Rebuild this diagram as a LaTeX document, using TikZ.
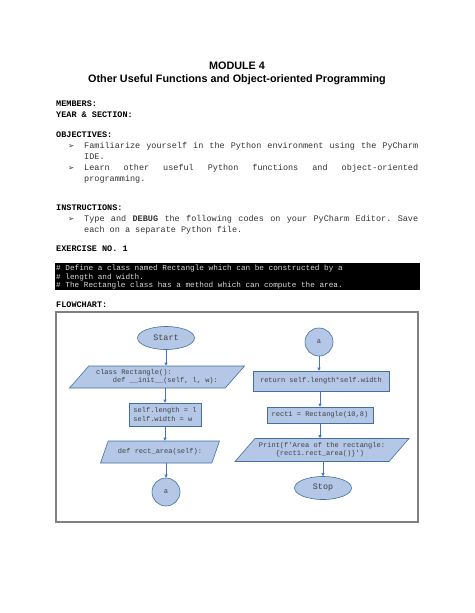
\documentclass[tikz,border=0pt]{standalone}
\usepackage{fontspec}
\setmainfont{Liberation Sans}
\setmonofont{Liberation Mono}
\newfontfamily\symfont{DejaVu Sans}
\usetikzlibrary{arrows.meta,shapes.geometric}
\definecolor{boxfill}{HTML}{B4C7E7}
\definecolor{boxline}{HTML}{41719C}
\definecolor{flowarr}{HTML}{4472C4}
\newcommand{\bodyfont}{\ttfamily\fontsize{8.5}{11}\selectfont}
\newcommand{\fillline}[1]{\hbox to 334pt{\frenchspacing\spaceskip=0.6em plus 1fil\relax #1}}
\newcommand{\ind}{\phantom{xxxx}}
\tikzset{flow/.style={-{Triangle[length=3pt,width=3pt]}, draw=flowarr, line width=0.6pt},
  txt/.style={anchor=base west, inner sep=0pt, font=\bodyfont, text=black!80},
  hd/.style={txt, font=\bodyfont\bfseries, text=black},
  fc/.style={draw=boxline, fill=boxfill, line width=0.6pt, text=black!75, inner sep=1pt,
    font=\ttfamily\fontsize{7}{8.2}\selectfont},
  term/.style={fc, ellipse, minimum width=57pt, minimum height=23pt, font=\ttfamily\fontsize{8.4}{10}\selectfont},
  io/.style={fc, trapezium, trapezium stretches body, align=left, minimum height=22pt},
  proc/.style={fc, rectangle, align=left},
  conn/.style={fc, circle, minimum size=28pt}}

\begin{document}
\begin{tikzpicture}[x=1pt, y=-1pt]
  \useasboundingbox (0,0) rectangle (474,613);
  \fill[white] (0,0) rectangle (474,613);
  % heading
  \node[anchor=base, inner sep=0pt, font=\fontsize{10.8}{13}\selectfont\bfseries] (mod) at (237,69) {MODULE 4};
  \node[anchor=base, inner sep=0pt, font=\fontsize{10.8}{13}\selectfont\bfseries] (sub) at (237,82) {Other Useful Functions and Object-oriented Programming};
  \node[hd] (mem) at (56,106) {MEMBERS:};
  \node[hd] (yr) at (56,117) {YEAR \& SECTION:};
  % objectives
  \node[hd] (obj) at (56,137) {OBJECTIVES:};
  \node[txt, font=\symfont\fontsize{7.5}{9}\selectfont] (b1) at (68,148) {➢};
  \node[txt] (o1) at (84,148) {\fillline{Familiarize yourself in the Python environment using the PyCharm}};
  \node[txt] (o1b) at (84,159) {IDE.};
  \node[txt, font=\symfont\fontsize{7.5}{9}\selectfont] (b2) at (68,170) {➢};
  \node[txt] (o2) at (84,170) {\fillline{Learn other useful Python functions and object-oriented}};
  \node[txt] (o2b) at (84,181) {programming.};
  % instructions
  \node[hd] (ins) at (56,210) {INSTRUCTIONS:};
  \node[txt, font=\symfont\fontsize{7.5}{9}\selectfont] (b3) at (68,221) {➢};
  \node[txt] (i1) at (84,221) {\fillline{Type and \textbf{DEBUG} the following codes on your PyCharm Editor. Save}};
  \node[txt] (i1b) at (84,232) {each on a separate Python file.};
  \node[hd] (ex) at (56,251) {EXERCISE NO. 1};
  % code comment box
  \fill[black] (55,263) rectangle (420,290);
  \foreach \t [count=\k] in {{\# Define a class named Rectangle which can be constructed by a},
      {\# length and width.},{\# The Rectangle class has a method which can compute the area.}}{
    \node[txt, font=\ttfamily\fontsize{7.7}{9}\selectfont, text=black!15] (c\k) at (56,262+8.6*\k) {\t};}
  \node[hd] (fl) at (56,307) {FLOWCHART:};
  \draw[black!50, line width=1.2pt] (56,312) rectangle (418,522);
  % left column
  \node[term] (start) at (166,338) {Start};
  \node[io, trapezium left angle=41, trapezium right angle=139, minimum width=175pt] (cls) at (157,377)
    {class Rectangle():\\\ind def \_\_init\_\_(self, l, w):};
  \node[proc, minimum width=72pt, minimum height=23pt] (init) at (165,414.5) {self.length = l\\self.width = w};
  \node[io, trapezium left angle=48, trapezium right angle=132, minimum width=119pt] (area) at (160,452)
    {def rect\_area(self):};
  \node[conn] (conA) at (166,492) {a};
  % right column
  \node[conn] (conB) at (319,342) {a};
  \node[proc, minimum width=136pt, minimum height=20pt] (ret) at (321,381) {return self.length*self.width};
  \node[proc, minimum width=106pt, minimum height=16pt] (mk) at (320,415) {rect1 = Rectangle(10,8)};
  \node[io, trapezium left angle=40, trapezium right angle=140, minimum width=174pt, minimum height=23pt] (prn) at (322,450)
    {Print(f'Area of the rectangle:\\\ind \{rect1.rect\_area()\}')};
  \node[term] (stop) at (323,488) {Stop};
  % connectors
  \draw[flow] (start) -- (start |- cls.north);
  \draw[flow] (init.north |- cls.south) -- (init);
  \draw[flow] (init) -- (init |- area.north);
  \draw[flow] (conA.north |- area.south) -- (conA);
  \draw[flow] (conB) -- (conB |- ret.north);
  \draw[flow] (mk.north |- ret.south) -- (mk);
  \draw[flow] (mk) -- (mk |- prn.north);
  \draw[flow] (stop.north |- prn.south) -- (stop);
\end{tikzpicture}
\end{document}
